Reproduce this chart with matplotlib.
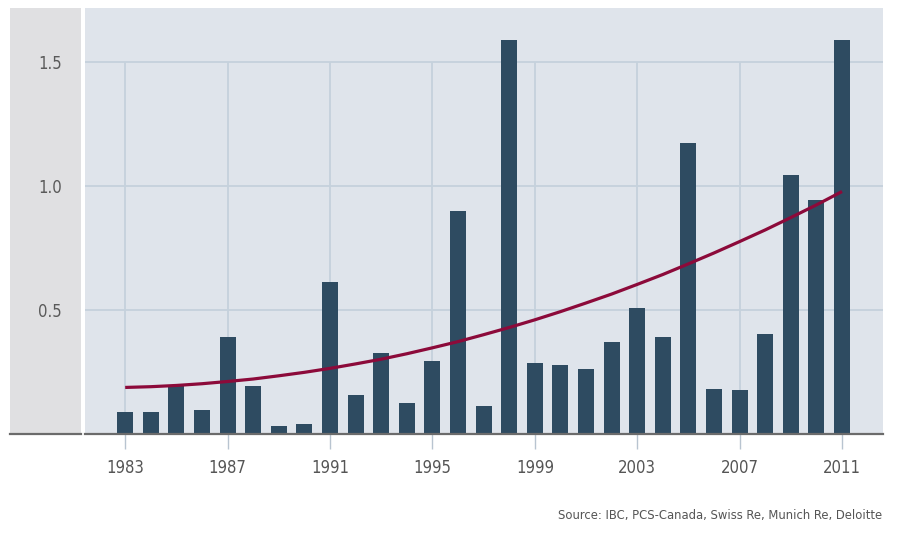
import matplotlib
matplotlib.use("Agg")
import matplotlib.pyplot as plt
from matplotlib.patches import Rectangle
from matplotlib.lines import Line2D

# Annual insured catastrophe losses
years = list(range(1983, 2012))
losses = [0.09, 0.09, 0.195, 0.098, 0.39, 0.195, 0.032, 0.039, 0.613, 0.157,
          0.327, 0.125, 0.294, 0.899, 0.112, 1.59, 0.286, 0.279, 0.262, 0.372,
          0.508, 0.391, 1.173, 0.183, 0.176, 0.404, 1.044, 0.945, 1.59]
trend = [0.188, 0.191, 0.196, 0.203, 0.212, 0.222, 0.235, 0.249, 0.265, 0.283,
         0.302, 0.324, 0.348, 0.373, 0.401, 0.430, 0.461, 0.494, 0.529, 0.565,
         0.604, 0.644, 0.687, 0.731, 0.777, 0.824, 0.874, 0.925, 0.979]
xtick_years = [1983, 1987, 1991, 1995, 1999, 2003, 2007, 2011]
ytick_vals = [0.5, 1.0, 1.5]
ytick_labels = ["0.5", "1.0", "1.5"]
source = "Source: IBC, PCS-Canada, Swiss Re, Munich Re, Deloitte"

plt.rcParams["font.family"] = ["Liberation Sans Narrow", "DejaVu Sans"]
plt.rcParams["font.stretch"] = "condensed"

W, H = 900, 536
fig = plt.figure(figsize=(9, 5.36), dpi=100)

# grey panel behind the y labels
fig.patches.append(Rectangle((10 / W, (H - 434) / H), 71 / W, 426 / H,
                             transform=fig.transFigure, facecolor="#e0e0e2",
                             edgecolor="none", zorder=-5))
fig.lines.append(Line2D([10 / W, 81 / W], [(H - 434) / H] * 2,
                        transform=fig.transFigure, color="#6b6b6b", lw=1.6,
                        zorder=-4))

ax = fig.add_axes([85 / W, (H - 434) / H, (883 - 85) / W, 426 / H])
ax.set_facecolor("#dfe4eb")

grid_col = "#c5d1dc"
for v in ytick_vals:
    ax.axhline(v, color=grid_col, lw=1.3, zorder=1)
ax.vlines(xtick_years, 0, 1.5, color=grid_col, lw=1.3, zorder=1)

ax.bar(years, losses, width=0.62, color="#2e4b61", zorder=2)
ax.plot(years, trend, color="#8c0a3a", lw=2.3, zorder=3, solid_capstyle="butt")

ax.set_xlim(1981.43, 2012.6)
ax.set_ylim(0, 1.72)

for s in ["top", "right", "left"]:
    ax.spines[s].set_visible(False)
ax.spines["bottom"].set_color("#6b6b6b")
ax.spines["bottom"].set_linewidth(1.6)
ax.spines["bottom"].set_zorder(4)

ax.set_xticks(xtick_years)
ax.set_xticklabels([str(y) for y in xtick_years])
ax.tick_params(axis="x", length=10.8, width=1, color="#b8c4d0", pad=7,
               labelsize=12, labelcolor="#555555")
ax.set_yticks(ytick_vals)
ax.set_yticklabels(ytick_labels)
ax.tick_params(axis="y", length=0, pad=16.5, labelsize=12, labelcolor="#5a5a5a")

fig.text(882 / W, 1 - 516 / H, source, ha="right", va="center",
         fontsize=9.3, color="#555555")

fig.savefig("out.png", dpi=100)
